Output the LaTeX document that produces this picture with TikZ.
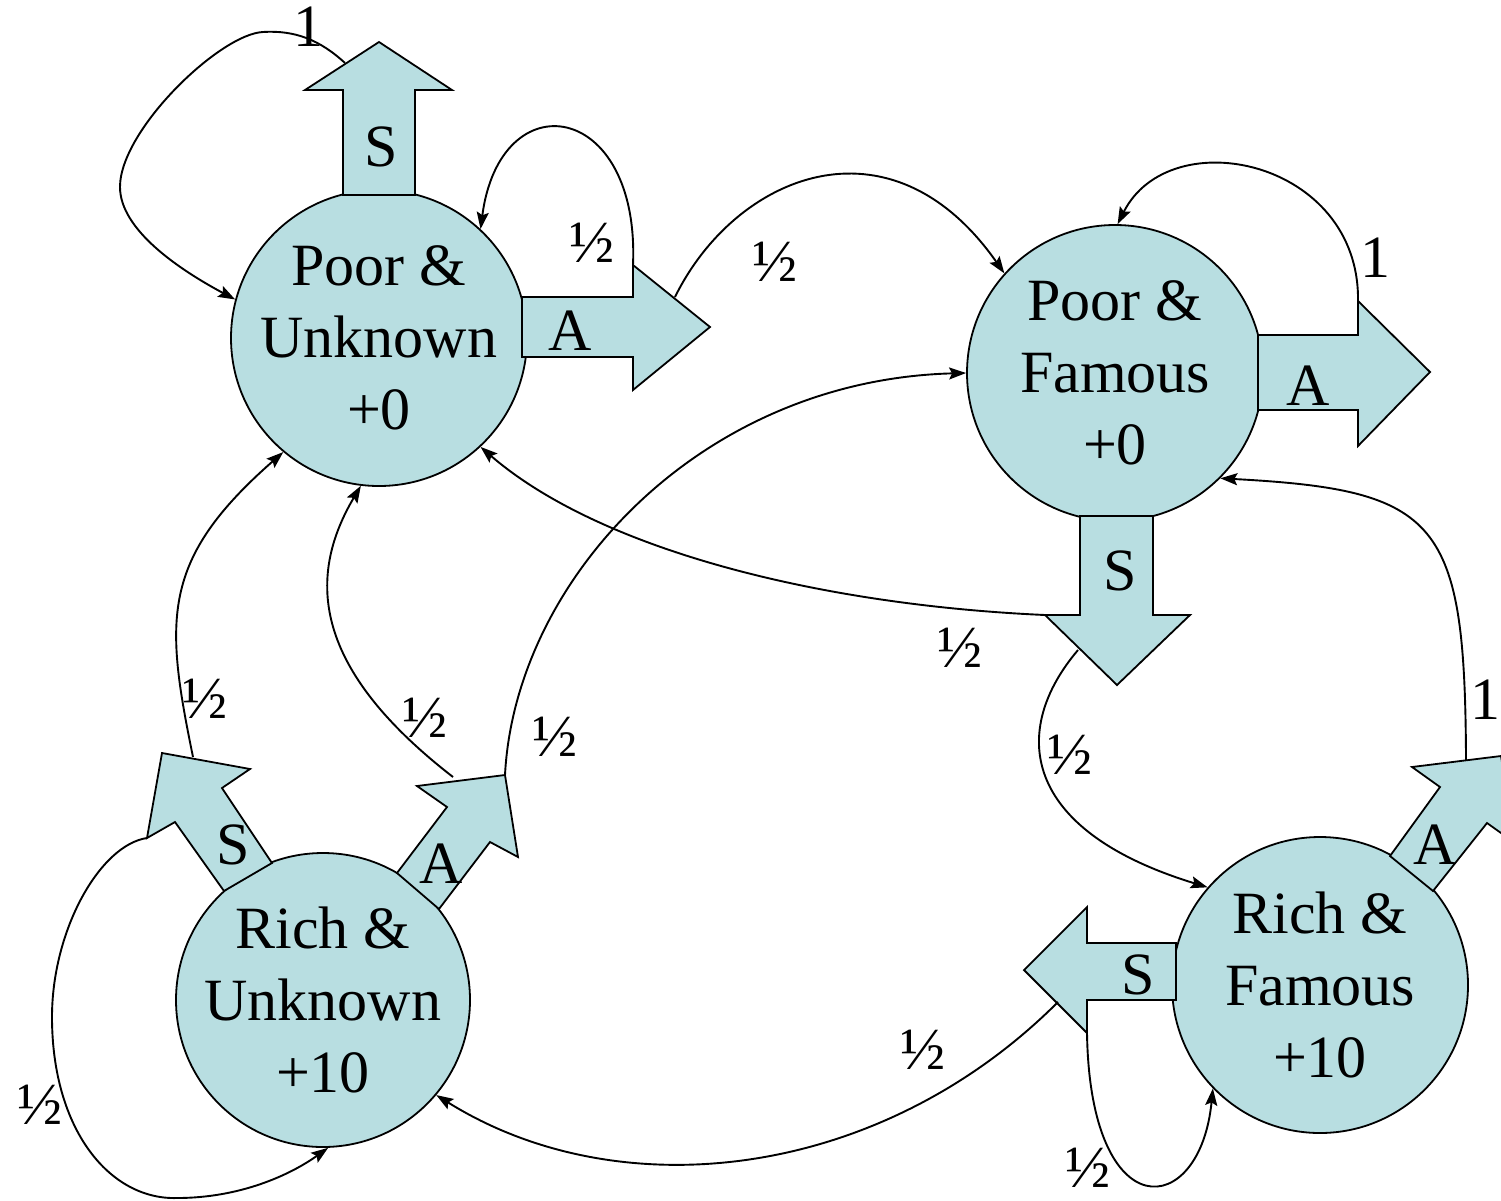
\documentclass[tikz,border=0pt]{standalone}
\usepackage{fontspec}
\setmainfont{Liberation Serif}
\usetikzlibrary{arrows.meta}
\definecolor{stfill}{RGB}{184,222,225}
\begin{document}
\begin{tikzpicture}[x=1pt,y=-1pt,
  every node/.style={font=\fontsize{60}{72}\selectfont, inner sep=0pt},
  statecirc/.style={circle, draw=black, line width=1.8pt, fill=stfill, minimum size=#1},
  statetext/.style={align=center},
  blockarrow/.style={draw=black, line width=1.8pt, fill=stfill, line join=miter},
  conn/.style={line width=1.9pt, -{Stealth[length=17pt,width=12pt,inset=3pt]}},
  prob/.style={}
]
\useasboundingbox (0,0) rectangle (1501,1200);

% states
\node[statecirc=296] (pu) at (379,338) {};
\node[statecirc=296] (pf) at (1115,373) {};
\node[statecirc=294] (ru) at (323,1000) {};
\node[statecirc=296] (rf) at (1320,985) {};

% block arrows
\draw[blockarrow] (343,195) -- (343,90) -- (305,90) -- (379,42) -- (452,90) -- (415,90) -- (415,195) -- cycle;
\draw[blockarrow] (522,297) -- (633,297) -- (633,265) -- (710,327) -- (633,390) -- (633,357) -- (522,357) -- cycle;
\draw[blockarrow] (1258,335) -- (1358,335) -- (1358,301) -- (1430,372) -- (1358,446) -- (1358,410) -- (1258,410) -- cycle;
\draw[blockarrow] (1080,516) -- (1080,615) -- (1045,615) -- (1117,685) -- (1190,615) -- (1153,615) -- (1153,516) -- cycle;
\draw[blockarrow] (1176,943) -- (1087,943) -- (1087,907) -- (1024,970) -- (1087,1033) -- (1087,1000) -- (1176,1000) -- cycle;
\draw[blockarrow] (1390,856) -- (1440,787) -- (1412,767) -- (1501,756) -- (1515,843) -- (1487,823) -- (1433,891) -- cycle;
\draw[blockarrow] (224,891) -- (175,822) -- (147,838) -- (162,753) -- (250,769) -- (222,788) -- (272,863) -- cycle;
\draw[blockarrow] (397,873) -- (447,807) -- (417,786) -- (505,775) -- (518,857) -- (490,842) -- (439,909) -- cycle;

% state texts
\node[statetext] (put) at (pu) {Poor \&\\Unknown\\+0};
\node[statetext] (pft) at (pf) {Poor \&\\Famous\\+0};
\node[statetext] (rut) at (ru) {Rich \&\\Unknown\\+10};
\node[statetext] (rft) at (rf) {Rich \&\\Famous\\+10};

% action labels
\node (puS) at (381,147) {S};
\node (puA) at (570,331) {A};
\node (pfA) at (1308,386) {A};
\node (pfS) at (1120,571) {S};
\node (rfA) at (1435,845) {A};
\node (rfS) at (1138,975) {S};
\node (ruS) at (233,845) {S};
\node (ruA) at (441,864) {A};

% connector start points
\coordinate (c1) at (345,63);
\coordinate (c2) at (633,265);
\coordinate (c3) at (675,297);
\coordinate (c4) at (1358,301);
\coordinate (c5) at (1045,615);
\coordinate (c6) at (1078,650);
\coordinate (c7) at (1466,760);
\coordinate (c8) at (1058,1002);
\coordinate (c9) at (1087,1033);
\coordinate (c10) at (147,838);
\coordinate (c11) at (193,757);
\coordinate (c12) at (453,777);
\coordinate (c13) at (505,775);

% connectors
\draw[conn] (c1) .. controls (320,40) and (295,30) .. (263,32)
  .. controls (220,34) and (120,130) .. (120,187)
  .. controls (120,230) and (180,270) .. (pu.165);
\draw[conn] (c2) .. controls (640,100) and (500,80) .. (pu.47);
\draw[conn] (c3) .. controls (735,175) and (890,110) .. (pf.138);
\draw[conn] (c4) .. controls (1360,160) and (1170,120) .. (pf.89);
\draw[conn] (c5) .. controls (820,605) and (600,550) .. (pu.-47);
\draw[conn] (c6) .. controls (1010,730) and (1020,830) .. (rf.139);
\draw[conn] (c7) .. controls (1465,520) and (1440,490) .. (pf.-45);
\draw[conn] (c8) .. controls (880,1180) and (620,1210) .. (ru.-40);
\draw[conn] (c9) .. controls (1090,1230) and (1200,1220) .. (rf.224);
\draw[conn] (c10) .. controls (100,845) and (52,930) .. (52,1017)
  .. controls (52,1130) and (110,1200) .. (177,1198)
  .. controls (240,1198) and (290,1175) .. (ru.-88);
\draw[conn] (c11) .. controls (165,620) and (160,560) .. (pu.230);
\draw[conn] (c12) .. controls (315,670) and (305,580) .. (pu.263);
\draw[conn] (c13) .. controls (515,580) and (700,380) .. (pf.180);

% probability labels
\node[prob] (p1) at (308,27) {1};
\node[prob] (p2) at (592,243) {½};
\node[prob] (p3) at (775,262) {½};
\node[prob] (p4) at (1375,258) {1};
\node[prob] (p5) at (960,648) {½};
\node[prob] (p6) at (1070,755) {½};
\node[prob] (p7) at (1485,700) {1};
\node[prob] (p8) at (923,1050) {½};
\node[prob] (p9) at (1088,1168) {½};
\node[prob] (p10) at (40,1105) {½};
\node[prob] (p11) at (205,699) {½};
\node[prob] (p12) at (425,718) {½};
\node[prob] (p13) at (555,737) {½};
\end{tikzpicture}
\end{document}
